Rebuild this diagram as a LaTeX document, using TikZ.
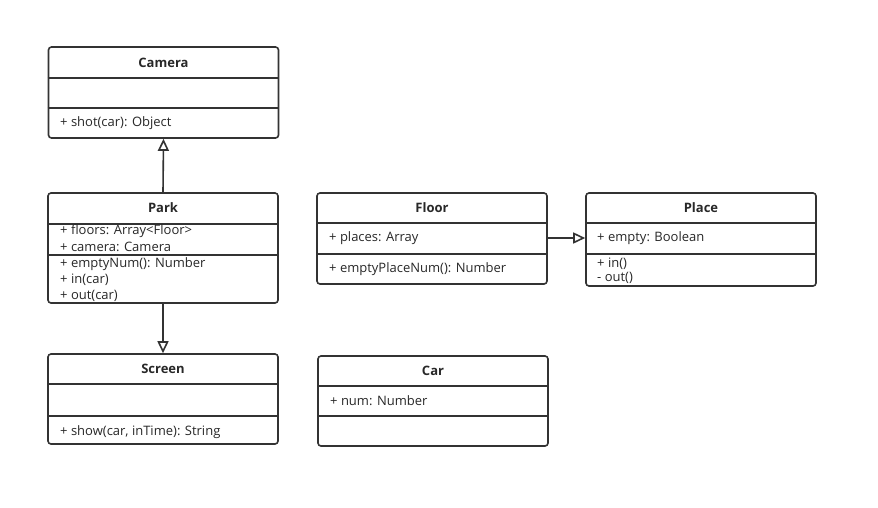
\documentclass[tikz,border=0pt]{standalone}
\usepackage{fontspec}
\setmainfont{Open Sans}
\usetikzlibrary{positioning, arrows.meta}
\definecolor{umlLine}{RGB}{51, 51, 51}
\definecolor{umlText}{RGB}{40, 40, 40}
\tikzset{
    base/.style={
        font=\fontsize{13}{15}\selectfont,
        text=umlText
    },
    classbox/.style={
        rectangle,
        rounded corners=3pt,
        draw=umlLine,
        line width=1.6pt,
        fill=white,
        minimum width=230pt,
        inner sep=0pt
    },
    title/.style={
        base,
        font=\fontsize{13}{15}\selectfont\bfseries
    },
    member/.style={
        base,
        anchor=west,
        inner sep=0pt
    },
    divider/.style={
        draw=umlLine,
        line width=1.6pt
    },
    inherit/.style={
        -{Triangle[open, length=12pt, width=11pt]},
        draw=umlLine,
        line width=1.6pt,
        fill=white
    }
}

\begin{document}
\begin{tikzpicture}[x=1pt, y=-1pt]
  \useasboundingbox (0,0) rectangle (878,507);

  % Camera
  \node[classbox, minimum height=91pt] (camera) at (163.5,92.5) {};
  \node[title] (cameraT) at (163.5,63) {Camera};
  \draw[divider] (camera.west |- 0,78) -- (camera.east |- 0,78);
  \draw[divider] (camera.west |- 0,108) -- (camera.east |- 0,108);
  \node[member] (cameraM) at (60,123) {+ shot(car): Object};

  % Park
  \node[classbox, minimum height=110pt] (park) at (163,248) {};
  \node[title] (parkT) at (163,208) {Park};
  \draw[divider] (park.west |- 0,224) -- (park.east |- 0,224);
  \draw[divider] (park.west |- 0,255) -- (park.east |- 0,255);
  \node[member] (parkA1) at (60,231) {+ floors: Array<Floor>};
  \node[member] (parkA2) at (60,247) {+ camera: Camera};
  \node[member] (parkM1) at (60,264) {+ emptyNum(): Number};
  \node[member] (parkM2) at (60,280) {+ in(car)};
  \node[member] (parkM3) at (60,296) {+ out(car)};

  % Screen
  \node[classbox, minimum height=90pt] (screen) at (163,399) {};
  \node[title] (screenT) at (163,369) {Screen};
  \draw[divider] (screen.west |- 0,384) -- (screen.east |- 0,384);
  \draw[divider] (screen.west |- 0,416) -- (screen.east |- 0,416);
  \node[member] (screenM) at (60,432) {+ show(car, inTime): String};

  % Floor
  \node[classbox, minimum height=91pt] (floor) at (432,238.5) {};
  \node[title] (floorT) at (432,208) {Floor};
  \draw[divider] (floor.west |- 0,223) -- (floor.east |- 0,223);
  \draw[divider] (floor.west |- 0,254) -- (floor.east |- 0,254);
  \node[member] (floorA) at (329,238) {+ places: Array};
  \node[member] (floorM) at (329,269) {+ emptyPlaceNum(): Number};

  % Place
  \node[classbox, minimum height=93pt] (place) at (701,239.5) {};
  \node[title] (placeT) at (701,208) {Place};
  \draw[divider] (place.west |- 0,223) -- (place.east |- 0,223);
  \draw[divider] (place.west |- 0,254) -- (place.east |- 0,254);
  \node[member] (placeA) at (597,238) {+ empty: Boolean};
  \node[member] (placeM1) at (597,264) {+ in()};
  \node[member] (placeM2) at (597,278) {- out()};

  % Car
  \node[classbox, minimum height=90pt] (car) at (433,401) {};
  \node[title] (carT) at (433,371) {Car};
  \draw[divider] (car.west |- 0,386) -- (car.east |- 0,386);
  \draw[divider] (car.west |- 0,416) -- (car.east |- 0,416);
  \node[member] (carA) at (330,401) {+ num: Number};

  % Relations
  \draw[inherit] (park.north) -- (camera.south);
  \draw[inherit] (park.south) -- (screen.north);
  \draw[inherit] (floor.east |- floorA) -- (place.west |- floorA);

\end{tikzpicture}
\end{document}
